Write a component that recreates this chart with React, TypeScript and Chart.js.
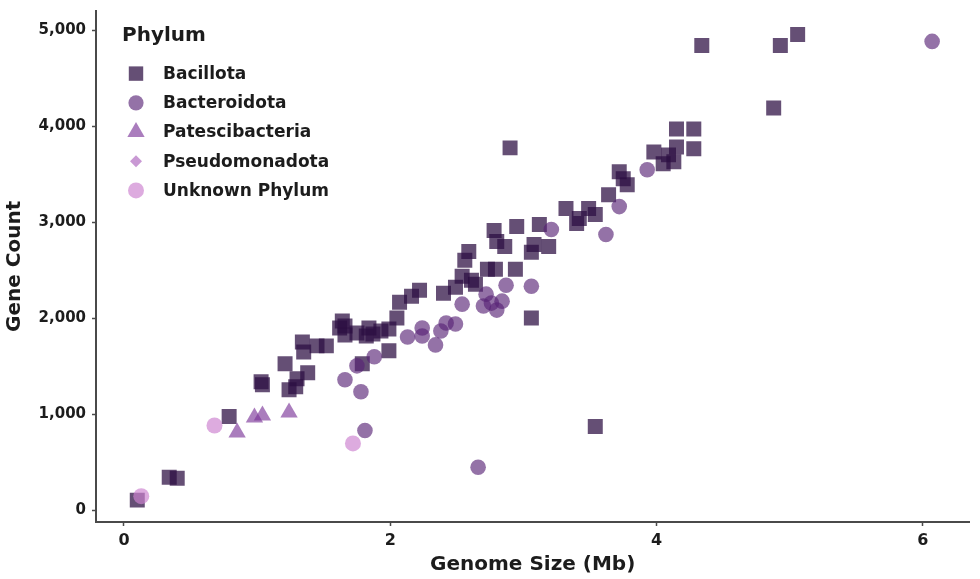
import React, { useEffect, useRef } from 'react';
import { Chart, registerables } from 'chart.js';
import { drawPoint } from 'chart.js/helpers';

Chart.register(...registerables);

// ---------- data ----------
const bacillotaSize = [
  0.10, 0.34, 0.40, 0.79, 1.03, 1.04, 1.21, 1.24, 1.29, 1.30,
  1.38, 1.34, 1.35, 1.45, 1.52, 1.62, 1.66, 1.66, 1.75, 1.79,
  1.82, 1.87, 1.84, 1.93, 1.99, 1.99, 2.05, 2.07, 2.16, 2.22,
  2.40, 2.49, 2.54, 2.61, 2.64, 2.56, 2.59, 2.73, 2.79, 2.94,
  2.78, 2.80, 2.86, 2.95, 3.06, 3.08, 3.12, 3.19, 3.06, 2.90,
  3.32, 3.42, 3.40, 3.49, 3.54, 3.64, 3.72, 3.75, 3.78, 3.98,
  4.09, 4.05, 4.13, 4.15, 4.28, 4.15, 4.28, 4.34, 4.88, 4.93,
  5.06, 3.54, 1.64,
];
const bacillotaGenes = [
  104, 342, 332, 975, 1338, 1307, 1525, 1255, 1286, 1369,
  1432, 1753, 1649, 1712, 1712, 1898, 1919, 1826, 1846, 1525,
  1815, 1836, 1898, 1867, 1888, 1660, 2002, 2168, 2230, 2293,
  2261, 2324, 2438, 2396, 2355, 2604, 2697, 2510, 2510, 2510,
  2915, 2801, 2749, 2956, 2687, 2770, 2977, 2749, 2002, 3776,
  3143, 3039, 2988, 3143, 3081, 3288, 3527, 3454, 3392, 3734,
  3703, 3610, 3631, 3786, 3766, 3973, 3973, 4844, 4191, 4844,
  4959, 871, 1971,
];

const bacteroidotaSize = [
  1.66, 1.75, 1.78, 1.81, 1.88, 2.13, 2.24, 2.24, 2.34, 2.38,
  2.42, 2.49, 2.54, 2.70, 2.72, 2.76, 2.80, 2.84, 2.87, 3.06,
  3.21, 2.66, 3.62, 3.72, 3.93, 6.07,
];
const bacteroidotaGenes = [
  1359, 1504, 1234, 830, 1598, 1805, 1898, 1815, 1722, 1867,
  1950, 1940, 2147, 2127, 2251, 2158, 2085, 2178, 2344, 2334,
  2925, 446, 2873, 3164, 3548, 4886,
];

const patescibacteriaSize = [0.85, 0.98, 1.04, 1.24];
const patescibacteriaGenes = [809, 965, 985, 1017];

const pseudomonadotaSize: number[] = [];
const pseudomonadotaGenes: number[] = [];

const unknownSize = [0.13, 0.68, 1.72];
const unknownGenes = [145, 882, 695];

const phylumNames = ['Bacillota', 'Bacteroidota', 'Patescibacteria', 'Pseudomonadota', 'Unknown Phylum'];
const legendTitle = 'Phylum';

const xTickValues = [0, 2, 4, 6];
const xTickLabels = ['0', '2', '4', '6'];
const yTickValues = [0, 1000, 2000, 3000, 4000, 5000];
const yTickLabels = ['0', '1,000', '2,000', '3,000', '4,000', '5,000'];

const xTitle = 'Genome Size (Mb)';
const yTitle = 'Gene Count';

// ---------- styles ----------
const FONT = '"DejaVu Sans", "Liberation Sans", sans-serif';
const fills = [
  'rgba(44, 14, 66, 0.73)',
  'rgba(88, 34, 118, 0.64)',
  'rgba(122, 52, 152, 0.64)',
  'rgba(176, 105, 191, 0.68)',
  'rgba(205, 131, 208, 0.68)',
];
const styles = ['rect', 'circle', 'triangle', 'rectRot', 'circle'];
const plotRadius = [10.6, 7.8, 10, 6, 8];
const legendRadius = [10.2, 7.6, 10, 6, 8];
const drawOrder = [5, 4, 3, 2, 1];
const axisColor = '#4a4a4a';
const textColor = '#1c1c1c';

const pairs = (xs: number[], ys: number[]) => xs.map((x, i) => ({ x, y: ys[i] }));

const seriesX = [bacillotaSize, bacteroidotaSize, patescibacteriaSize, pseudomonadotaSize, unknownSize];
const seriesY = [bacillotaGenes, bacteroidotaGenes, patescibacteriaGenes, pseudomonadotaGenes, unknownGenes];

const legendPlugin = {
  id: 'phylumLegend',
  afterDatasetsDraw(chart: any) {
    const { ctx, chartArea } = chart;
    const left = chartArea.left;
    const top = chartArea.top;
    ctx.save();
    ctx.fillStyle = textColor;
    ctx.textAlign = 'left';
    ctx.textBaseline = 'middle';
    ctx.font = `bold 20px ${FONT}`;
    ctx.fillText(legendTitle, left + 26, top + 25);
    ctx.font = `bold 17px ${FONT}`;
    chart.data.datasets.forEach((ds: any, i: number) => {
      const cy = top + 63 + i * 29.2;
      ctx.fillStyle = fills[i];
      drawPoint(ctx, { pointStyle: styles[i], radius: legendRadius[i], rotation: 0, borderWidth: 0 } as any, left + 40, cy);
      ctx.fillStyle = textColor;
      ctx.fillText(ds.label, left + 67, cy + 1);
    });
    ctx.restore();
  },
};

export default function App() {
  const ref = useRef<HTMLCanvasElement | null>(null);

  useEffect(() => {
    if (!ref.current) return;
    const datasets = phylumNames.map((name, i) => ({
      label: name,
      data: pairs(seriesX[i], seriesY[i]),
      pointStyle: styles[i],
      pointRadius: plotRadius[i],
      pointHoverRadius: plotRadius[i],
      backgroundColor: fills[i],
      borderWidth: 0,
      borderColor: 'rgba(0,0,0,0)',
      order: drawOrder[i],
    }));

    const chart = new Chart(ref.current, {
      type: 'scatter',
      data: { datasets },
      options: {
        animation: false,
        responsive: true,
        maintainAspectRatio: false,
        layout: { padding: { top: 8, right: 8, left: 0, bottom: 0 } },
        plugins: {
          legend: { display: false },
          tooltip: { enabled: false },
        },
        scales: {
          x: {
            type: 'linear',
            min: -0.21,
            max: 6.35,
            afterBuildTicks: (s: any) => {
              s.ticks = xTickValues.map((v) => ({ value: v }));
            },
            afterFit: (s: any) => {
              s.height = 57;
              s.paddingLeft = 0;
              s.paddingRight = 0;
            },
            ticks: {
              autoSkip: false,
              maxRotation: 0,
              padding: 5,
              color: textColor,
              font: { family: FONT, size: 16, weight: 'bold' },
              callback: (v: any) => {
                const k = xTickValues.indexOf(Number(v));
                return k >= 0 ? xTickLabels[k] : '';
              },
            },
            grid: { drawOnChartArea: false, drawTicks: true, tickLength: 4, color: axisColor, tickWidth: 1.5 },
            border: { display: true, color: axisColor, width: 2 },
            title: {
              display: true,
              text: xTitle,
              color: textColor,
              font: { family: FONT, size: 20, weight: 'bold' },
              padding: { top: 0, bottom: 2 },
            },
          },
          y: {
            type: 'linear',
            min: -124,
            max: 5207,
            afterBuildTicks: (s: any) => {
              s.ticks = yTickValues.map((v) => ({ value: v }));
            },
            afterFit: (s: any) => {
              s.width = 96;
              s.paddingTop = 0;
              s.paddingBottom = 0;
            },
            ticks: {
              autoSkip: false,
              padding: 6,
              color: textColor,
              font: { family: FONT, size: 15, weight: 'bold' },
              callback: (v: any) => {
                const k = yTickValues.indexOf(Number(v));
                return k >= 0 ? yTickLabels[k] : '';
              },
            },
            grid: { drawOnChartArea: false, drawTicks: true, tickLength: 4, color: axisColor, tickWidth: 1.5 },
            border: { display: true, color: axisColor, width: 2 },
            title: {
              display: true,
              text: yTitle,
              color: textColor,
              font: { family: FONT, size: 20, weight: 'bold' },
              padding: { top: 3, bottom: 0 },
            },
          },
        },
      },
      plugins: [legendPlugin],
    } as any);

    return () => chart.destroy();
  }, []);

  return (
    <div style={{ position: 'fixed', left: 0, top: 0, width: 980, height: 579, background: '#fff' }}>
      <canvas ref={ref} />
    </div>
  );
}
